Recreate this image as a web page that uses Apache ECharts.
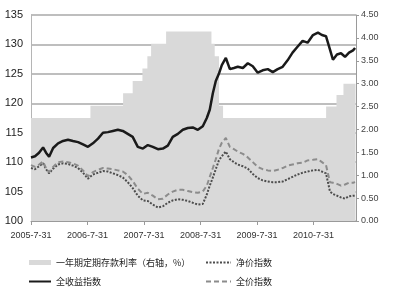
<!DOCTYPE html>
<html>
<head>
<meta charset="utf-8">
<script src="https://cdn.jsdelivr.net/npm/echarts@6/dist/echarts.min.js"></script>
<style>
html,body{margin:0;padding:0;background:#fff;}
#c{width:400px;height:300px;}
</style>
</head>
<body>
<div id="c"></div>
<script>
// ---- data ----
var dates = ['2005-07-31','2005-08-26','2005-09-21','2005-10-17','2005-11-05','2005-11-25','2005-12-21','2006-01-22','2006-02-23','2006-03-27','2006-04-28','2006-05-31','2006-07-02','2006-08-03','2006-09-04','2006-10-07','2006-11-08','2006-12-10','2007-01-11','2007-02-12','2007-03-16','2007-04-17','2007-05-19','2007-06-21','2007-07-24','2007-08-25','2007-09-26','2007-10-29','2007-11-30','2008-01-01','2008-02-02','2008-03-06','2008-04-07','2008-05-09','2008-06-10','2008-07-13','2008-08-14','2008-09-09','2008-09-28','2008-10-18','2008-11-06','2008-11-26','2008-12-15','2009-01-10','2009-02-05','2009-03-03','2009-03-28','2009-04-30','2009-06-01','2009-07-03','2009-08-04','2009-09-05','2009-10-08','2009-11-09','2009-12-11','2010-01-12','2010-02-13','2010-03-17','2010-04-18','2010-05-21','2010-06-22','2010-07-27','2010-08-28','2010-09-23','2010-10-19','2010-11-14','2010-12-03','2010-12-29','2011-01-24','2011-02-19','2011-03-17','2011-04-12','2011-04-25'];
var totalReturn = [110.8,111.0,111.6,112.5,111.6,110.9,112.4,113.2,113.6,113.8,113.6,113.4,113.0,112.6,113.2,114.0,115.0,115.1,115.3,115.5,115.3,114.8,114.3,112.6,112.3,112.9,112.6,112.2,112.3,112.8,114.3,114.8,115.5,115.8,115.9,115.5,116.1,117.5,118.9,121.7,123.8,125.0,126.5,127.7,125.8,126.0,126.2,126.0,126.8,126.3,125.2,125.6,125.8,125.3,125.8,126.2,127.3,128.6,129.6,130.6,130.3,131.6,132.0,131.6,131.4,129.1,127.4,128.3,128.5,127.9,128.6,129.0,129.4];
var fullPrice = [109.5,109.2,109.6,110.1,109.0,108.3,109.2,110.0,110.1,110.0,109.8,109.4,108.6,107.6,108.3,108.7,109.0,108.9,108.8,108.6,108.4,107.8,106.8,105.5,104.6,104.8,104.3,103.7,103.8,104.5,105.0,105.3,105.3,105.1,104.9,104.8,105.0,106.0,107.5,109.0,110.5,112.2,113.3,114.1,112.6,112.2,111.8,111.4,110.8,110.0,109.2,108.8,108.6,108.5,108.7,109.0,109.4,109.6,109.8,109.9,110.3,110.4,110.5,110.0,109.5,106.6,106.5,106.3,106.0,106.2,106.5,106.5,106.6];
var netPrice = [109.0,108.8,109.3,109.8,108.8,108.1,108.9,109.6,109.8,109.7,109.4,109.0,108.2,107.2,107.9,108.2,108.5,108.4,108.1,107.8,107.4,106.6,105.6,104.3,103.5,103.4,102.8,102.3,102.5,103.1,103.5,103.7,103.6,103.4,103.1,102.8,102.9,104.5,106.0,107.4,108.8,110.3,111.0,111.8,110.5,110.0,109.6,109.3,108.9,108.0,107.3,106.9,106.7,106.6,106.6,106.7,107.1,107.5,107.9,108.2,108.4,108.6,108.7,108.4,108.1,105.0,104.6,104.3,104.0,103.8,104.2,104.3,104.3];
var rateDates = ['2005-07-31','2006-08-19','2007-03-18','2007-05-19','2007-07-21','2007-08-22','2007-09-15','2007-12-21','2008-10-09','2008-10-30','2008-11-27','2008-12-23','2010-10-20','2010-12-26','2011-02-09','2011-04-28'];
var rateValues = [2.25,2.52,2.79,3.06,3.33,3.60,3.87,4.14,3.87,3.60,2.52,2.25,2.50,2.75,3.00,3.00];
var xTickLabels = ['2005-07-31','2006-07-31','2007-07-31','2008-07-31','2009-07-31','2010-07-31'];
var names = ['一年期定期存款利率（右轴，%）','全收益指数','净价指数','全价指数'];

function ts(s){ var p = s.split('-'); return Date.UTC(+p[0], +p[1]-1, +p[2]); }
function zip(a,b){ return a.map(function(d,i){ return [ts(d), b[i]]; }); }
var tickVals = xTickLabels.map(ts);

var chart = echarts.init(document.getElementById('c'), null, {renderer:'canvas'});
var latin = 'Liberation Sans, Arial, sans-serif';
var cjk = '"Noto Sans CJK SC", sans-serif';
var hideSym = {color:'rgba(0,0,0,0)', borderWidth:0};
chart.setOption({
  animation:false,
  backgroundColor:'#fff',
  grid:{left:31, right:44, top:15, bottom:79},
  xAxis:{
    type:'value',
    min:ts('2005-07-31'), max:ts('2011-05-01'),
    splitLine:{show:false},
    axisLine:{lineStyle:{color:'#9a9a9a', width:1}},
    axisTick:{show:true, customValues:tickVals, length:4, lineStyle:{color:'#9a9a9a'}},
    axisLabel:{customValues:tickVals, margin:10, fontSize:9, color:'#333', fontFamily:latin,
      formatter:function(v){ var d=new Date(v); return d.getUTCFullYear()+'-'+(d.getUTCMonth()+1)+'-'+d.getUTCDate(); }}
  },
  yAxis:[{
    type:'value', min:100, max:135, interval:5, position:'left',
    axisLine:{show:true, lineStyle:{color:'#b5b5b5'}},
    axisTick:{show:false},
    axisLabel:{fontSize:11, color:'#222', margin:8, fontFamily:latin},
    splitLine:{show:true, lineStyle:{color:'#a8a8a8', width:1.5}}
  },{
    type:'value', min:0, max:4.5, interval:0.5, position:'right',
    axisLine:{show:true, lineStyle:{color:'#9a9a9a'}},
    axisTick:{show:true, length:3, lineStyle:{color:'#9a9a9a'}},
    axisLabel:{fontSize:9, color:'#444', margin:5, fontFamily:latin, formatter:function(v){return v.toFixed(2);}},
    splitLine:{show:false}
  }],
  legend:[{
    orient:'vertical', left:28, top:258, padding:0, itemWidth:22, itemHeight:5, itemGap:10,
    textStyle:{fontSize:9, color:'#222', fontFamily:cjk},
    data:[{name:names[0], icon:'rect', itemStyle:{color:'#d9d9d9'}}, {name:names[1], itemStyle:hideSym}]
  },{
    orient:'vertical', left:205, top:258, padding:0, itemWidth:25, itemHeight:5, itemGap:10,
    textStyle:{fontSize:9, color:'#222', fontFamily:cjk},
    data:[{name:names[2], itemStyle:hideSym}, {name:names[3], itemStyle:hideSym}]
  }],
  series:[{
    name:names[0], type:'line', yAxisIndex:1, step:'end', symbol:'none',
    data:zip(rateDates, rateValues),
    lineStyle:{width:0, color:'#d9d9d9'},
    itemStyle:{color:'#d9d9d9'},
    areaStyle:{color:'#d9d9d9', opacity:1}
  },{
    name:names[2], type:'line', symbol:'none', data:zip(dates, netPrice),
    lineStyle:{color:'#4d4d4d', width:2, type:[2,1.5]}, itemStyle:{color:'#4d4d4d'}
  },{
    name:names[3], type:'line', symbol:'none', data:zip(dates, fullPrice),
    lineStyle:{color:'#8c8c8c', width:2, type:[5,3]}, itemStyle:{color:'#8c8c8c'}
  },{
    name:names[1], type:'line', symbol:'none', data:zip(dates, totalReturn),
    lineStyle:{color:'#1a1a1a', width:2.5}, itemStyle:{color:'#1a1a1a'}
  }]
});
</script>
</body>
</html>
